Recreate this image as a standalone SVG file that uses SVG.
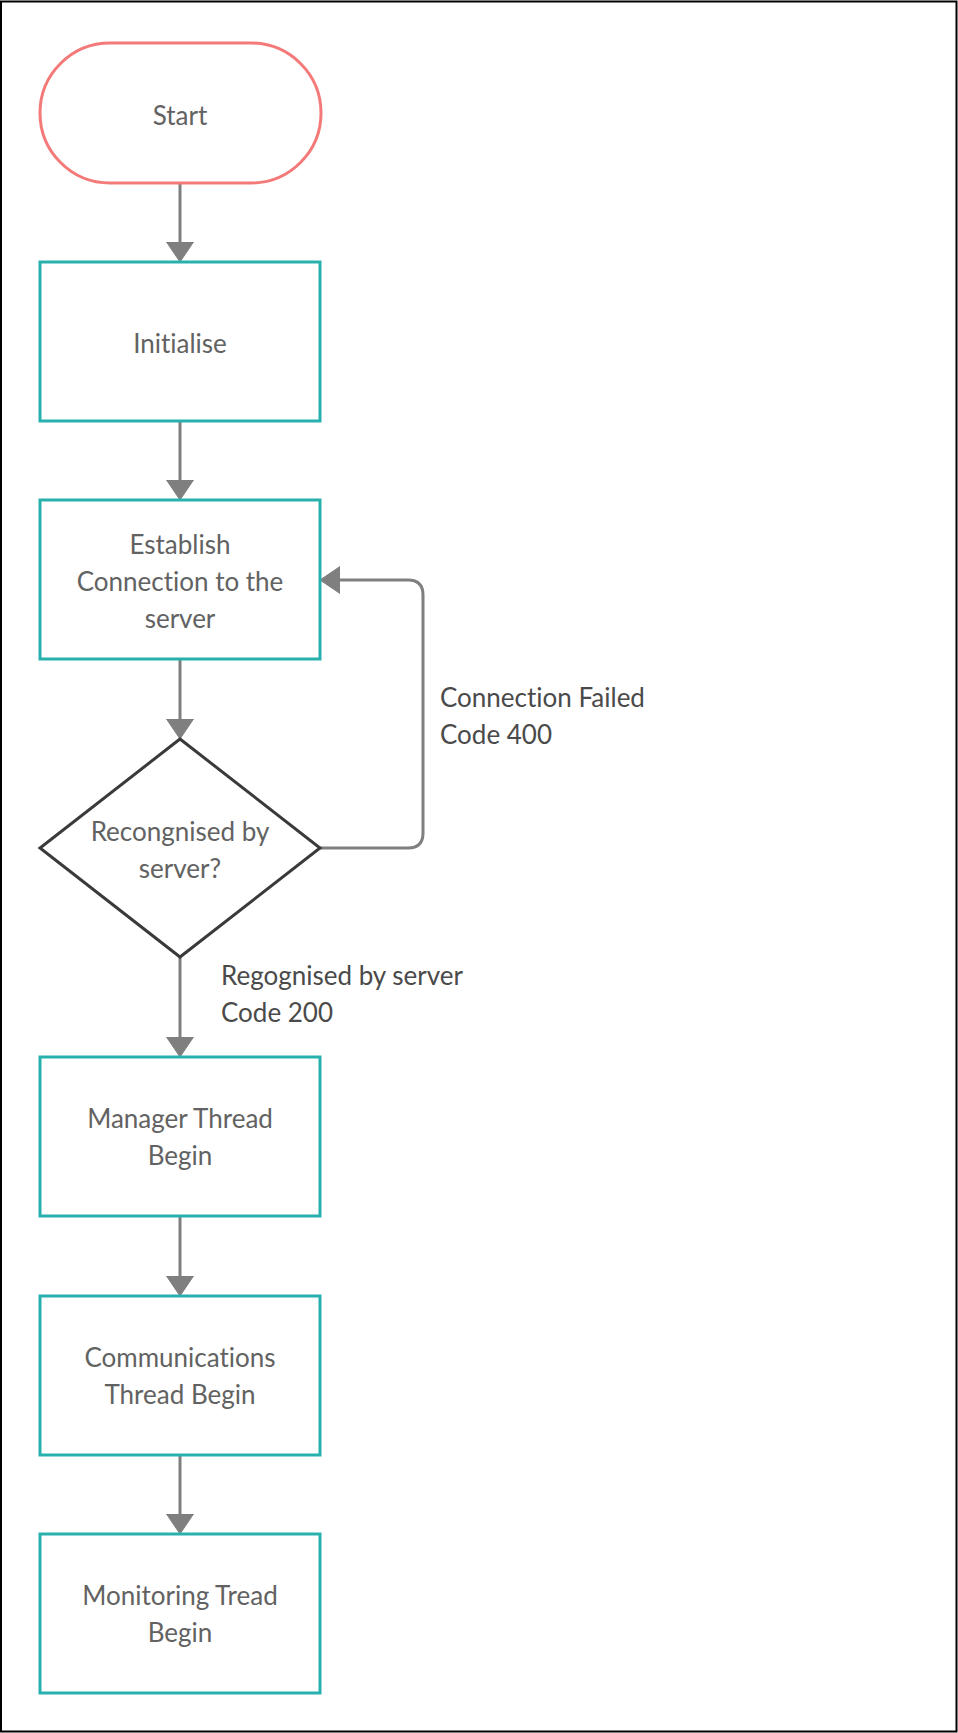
<svg xmlns="http://www.w3.org/2000/svg" width="958" height="1733" viewBox="0 0 958 1733">
  <style>
    .frame { fill: #ffffff; stroke: #000000; stroke-width: 2; }
    .terminal { fill: #ffffff; stroke: #f47a7a; stroke-width: 3; }
    .process { fill: #ffffff; stroke: #28b0ad; stroke-width: 3; }
    .decision { fill: #ffffff; stroke: #3a3a3a; stroke-width: 3; }
    .edge { fill: none; stroke: #7f7f7f; stroke-width: 3; }
    text { font-variant-ligatures: none; }
    .label { font-family: Lato, "Liberation Sans", sans-serif; font-size: 26px; fill: #626262; text-anchor: middle; }
    .note { font-family: Lato, "Liberation Sans", sans-serif; font-size: 26px; fill: #4a4a4a; }
  </style>
  <defs>
    <marker id="arrow" markerUnits="userSpaceOnUse" markerWidth="22" markerHeight="28" refX="17" refY="14" orient="auto">
      <path d="M0,0.5 L20,14 L0,27.5 Z" fill="#7f7f7f" stroke="#7f7f7f" stroke-width="1" stroke-linejoin="round"/>
    </marker>
  </defs>

  <rect class="frame" x="1" y="1.5" width="955.5" height="1730"/>

  <g id="connectors">
    <path class="edge" d="M180,183 V259" marker-end="url(#arrow)"/>
    <path class="edge" d="M180,421 V497" marker-end="url(#arrow)"/>
    <path class="edge" d="M180,659 V736" marker-end="url(#arrow)"/>
    <path class="edge" d="M180,957 V1054" marker-end="url(#arrow)"/>
    <path class="edge" d="M180,1216 V1293" marker-end="url(#arrow)"/>
    <path class="edge" d="M180,1455 V1531" marker-end="url(#arrow)"/>
    <path class="edge" d="M320,848 H408 Q423,848 423,833 V595 Q423,580 408,580 H323" marker-end="url(#arrow)"/>
    <text class="note" x="440" y="707">Connection Failed</text>
    <text class="note" x="440" y="744">Code 400</text>
    <text class="note" x="221" y="985">Regognised by server</text>
    <text class="note" x="221" y="1022">Code 200</text>
  </g>

  <g id="start">
    <rect class="terminal" x="40" y="43" width="281" height="140" rx="70" ry="70"/>
    <text class="label" x="180" y="125">Start</text>
  </g>

  <g id="initialise">
    <rect class="process" x="40" y="262" width="280" height="159"/>
    <text class="label" x="180" y="353">Initialise</text>
  </g>

  <g id="establish">
    <rect class="process" x="40" y="500" width="280" height="159"/>
    <text class="label" x="180" y="554">Establish</text>
    <text class="label" x="180" y="591">Connection to the</text>
    <text class="label" x="180" y="628">server</text>
  </g>

  <g id="recognised">
    <polygon class="decision" points="180,739 320,848 180,957 40,848"/>
    <text class="label" x="180" y="841">Recongnised by</text>
    <text class="label" x="180" y="878">server?</text>
  </g>

  <g id="manager">
    <rect class="process" x="40" y="1057" width="280" height="159"/>
    <text class="label" x="180" y="1128">Manager Thread</text>
    <text class="label" x="180" y="1165">Begin</text>
  </g>

  <g id="communications">
    <rect class="process" x="40" y="1296" width="280" height="159"/>
    <text class="label" x="180" y="1367">Communications</text>
    <text class="label" x="180" y="1404">Thread Begin</text>
  </g>

  <g id="monitoring">
    <rect class="process" x="40" y="1534" width="280" height="159"/>
    <text class="label" x="180" y="1605">Monitoring Tread</text>
    <text class="label" x="180" y="1642">Begin</text>
  </g>
</svg>
